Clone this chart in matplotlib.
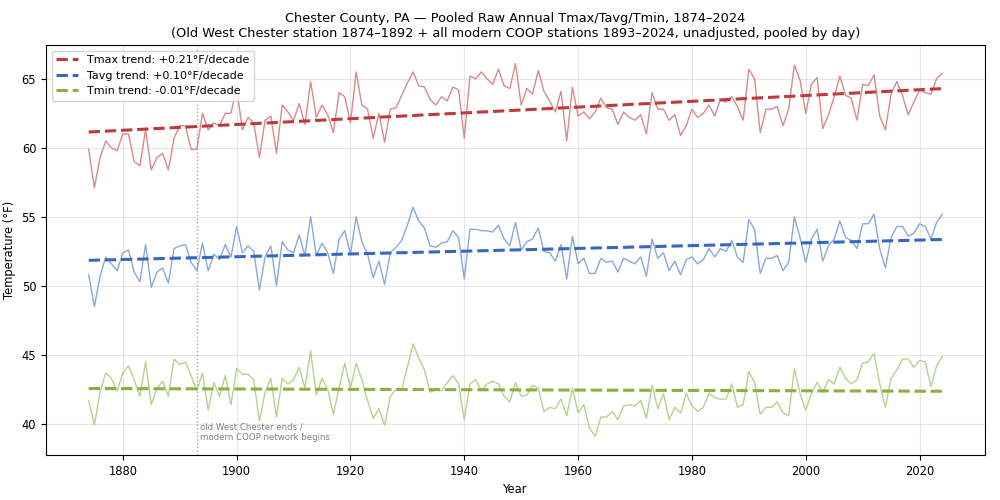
import matplotlib

matplotlib.use("Agg")
import matplotlib.pyplot as plt
import numpy as np

YEARS = list(range(1874, 2025))

TMAX = [
    59.9, 57.1, 59.3, 60.5, 60.0, 59.8, 61.0, 61.0, 59.0, 58.7,
    61.3, 58.4, 59.3, 59.6, 58.4, 60.7, 61.6, 61.6, 59.9, 59.9,
    62.5, 61.3, 61.8, 61.6, 62.5, 62.5, 64.4, 61.3, 62.2, 61.8,
    59.3, 62.0, 62.3, 59.6, 63.1, 62.6, 62.0, 63.2, 61.7, 64.8,
    62.2, 63.1, 62.4, 61.1, 64.0, 63.7, 61.8, 65.5, 63.1, 62.8,
    60.7, 62.5, 60.4, 62.8, 62.9, 63.8, 64.7, 65.5, 64.5, 64.4,
    63.5, 63.1, 63.7, 63.4, 64.4, 64.2, 60.7, 65.2, 65.0, 65.5,
    65.0, 64.6, 65.7, 64.5, 64.3, 66.1, 63.1, 64.3, 63.9, 65.6,
    64.1, 63.4, 62.6, 64.1, 60.5, 64.4, 62.3, 62.6, 62.1, 62.6,
    63.6, 62.9, 62.8, 61.7, 62.6, 62.2, 62.0, 62.4, 61.0, 64.0,
    62.8, 62.8, 62.0, 62.4, 60.9, 61.6, 62.8, 62.2, 62.5, 63.1,
    62.3, 63.5, 63.3, 63.7, 63.0, 62.0, 65.7, 65.0, 61.1, 62.8,
    62.8, 63.0, 61.6, 62.8, 66.0, 64.9, 62.5, 64.6, 65.1, 61.4,
    62.4, 63.7, 65.2, 63.8, 63.6, 62.0, 64.6, 64.5, 65.3, 62.3,
    61.3, 63.9, 64.8, 63.8, 62.4, 63.3, 64.2, 64.0, 63.9, 65.0,
    65.4,
]

TAVG = [
    50.8, 48.5, 50.7, 52.1, 51.6, 51.1, 52.4, 52.6, 51.0, 50.3,
    53.0, 49.9, 51.0, 51.3, 50.2, 52.7, 52.9, 53.0, 51.7, 51.1,
    53.1, 51.1, 52.3, 51.9, 53.0, 52.1, 54.3, 52.4, 52.9, 52.5,
    49.7, 52.1, 52.9, 50.0, 53.2, 52.6, 52.4, 53.7, 52.2, 55.0,
    52.2, 53.1, 52.4, 50.9, 53.4, 54.0, 52.3, 55.0, 53.2, 52.3,
    50.6, 51.8, 50.1, 52.4, 52.8, 53.3, 54.4, 55.7, 54.7, 54.2,
    52.9, 52.8, 53.1, 53.2, 54.0, 53.5, 50.5, 54.1, 54.1, 54.0,
    54.0, 53.9, 54.4, 53.4, 52.9, 54.6, 52.6, 53.2, 53.4, 54.2,
    52.5, 52.4, 51.8, 53.0, 50.5, 53.6, 51.6, 52.0, 50.9, 50.9,
    52.0, 51.7, 51.8, 51.0, 52.0, 51.8, 51.6, 52.1, 50.7, 53.4,
    52.0, 52.4, 51.1, 51.8, 50.8, 51.9, 52.1, 51.6, 51.9, 52.7,
    52.1, 52.7, 52.5, 53.3, 52.1, 51.7, 54.8, 54.1, 50.9, 52.0,
    52.0, 52.2, 51.1, 51.7, 55.0, 53.5, 51.7, 53.4, 54.1, 51.8,
    52.9, 53.4, 54.7, 53.5, 53.3, 52.7, 54.5, 54.5, 55.2, 52.7,
    51.3, 53.5, 54.3, 54.3, 53.6, 53.8, 54.5, 54.3, 53.4, 54.6,
    55.2,
]

TMIN = [
    41.7, 39.9, 42.3, 43.7, 43.3, 42.4, 43.7, 44.2, 43.2, 42.0,
    44.5, 41.4, 42.6, 43.1, 42.0, 44.7, 44.3, 44.5, 43.5, 42.4,
    43.7, 41.0, 43.0, 42.0, 43.5, 41.4, 44.0, 43.6, 43.6, 43.2,
    40.2, 42.3, 43.3, 40.5, 43.3, 42.9, 43.2, 44.1, 42.6, 45.3,
    42.1, 43.3, 42.5, 40.7, 42.6, 44.4, 42.6, 44.4, 43.2, 41.7,
    40.4, 41.1, 39.9, 42.0, 42.5, 42.5, 44.1, 45.8, 44.8, 43.9,
    42.3, 42.5, 42.4, 43.0, 43.5, 42.9, 40.3, 42.9, 43.2, 42.4,
    42.9, 43.1, 42.9, 42.0, 41.6, 43.0, 42.0, 42.1, 42.8, 42.6,
    40.9, 41.2, 41.1, 41.8, 40.6, 42.6, 40.8, 41.4, 39.7, 39.1,
    40.5, 40.5, 40.9, 40.3, 41.3, 41.4, 41.3, 41.7, 40.4, 42.8,
    41.1, 42.2, 40.3, 41.2, 40.8, 42.2, 41.3, 40.9, 41.2, 42.2,
    41.9, 41.8, 41.8, 42.9, 41.2, 41.4, 43.8, 43.0, 40.7, 41.2,
    41.2, 41.6, 40.8, 40.6, 44.0, 42.2, 41.0, 42.2, 43.0, 42.3,
    43.2, 42.9, 44.1, 43.3, 42.9, 43.2, 44.4, 44.5, 45.1, 42.9,
    41.2, 43.3, 43.9, 44.7, 44.7, 44.1, 44.6, 44.5, 42.7, 44.2,
    44.9,
]

TREND_LABELS = [
    "Tmax trend: +0.21°F/decade",
    "Tavg trend: +0.10°F/decade",
    "Tmin trend: -0.01°F/decade",
]
RAW_COLORS = ["#d98a8a", "#8aa8dc", "#b9d08e"]
TREND_COLORS = ["#c0393b", "#3567c4", "#8ab040"]
SPLIT_YEAR = 1893


def main() -> None:
    plt.rcParams["font.size"] = 8.3
    years = np.array(YEARS)
    fig, ax = plt.subplots(figsize=(10, 5))

    for values, label, raw_c, trend_c in zip(
        [TMAX, TAVG, TMIN], TREND_LABELS, RAW_COLORS, TREND_COLORS
    ):
        values = np.array(values)
        ax.plot(years, values, color=raw_c, linewidth=1)
        # straight OLS fit for the dashed trend
        slope, intercept = np.polyfit(years, values, 1)
        ax.plot(
            years,
            slope * years + intercept,
            color=trend_c,
            linestyle="--",
            linewidth=2.2,
            label=label,
        )

    ax.axvline(SPLIT_YEAR, color="gray", linestyle=":", linewidth=1, alpha=0.7)
    ax.text(
        SPLIT_YEAR + 0.6,
        40.1,
        "old West Chester ends /\nmodern COOP network begins",
        fontsize=6.2,
        color="gray",
        va="top",
        ha="left",
    )

    ax.set_xlabel("Year")
    ax.set_ylabel("Temperature (°F)")
    ax.set_title(
        "Chester County, PA — Pooled Raw Annual Tmax/Tavg/Tmin, 1874–2024\n"
        "(Old West Chester station 1874–1892 + all modern COOP stations 1893–2024, "
        "unadjusted, pooled by day)",
        fontsize=9.3,
    )
    ax.legend(loc="upper left", fontsize=8)
    ax.grid(alpha=0.3)
    fig.subplots_adjust(left=0.046, right=0.985, top=0.91, bottom=0.09)
    fig.savefig("out.png", dpi=100)


if __name__ == "__main__":
    main()
